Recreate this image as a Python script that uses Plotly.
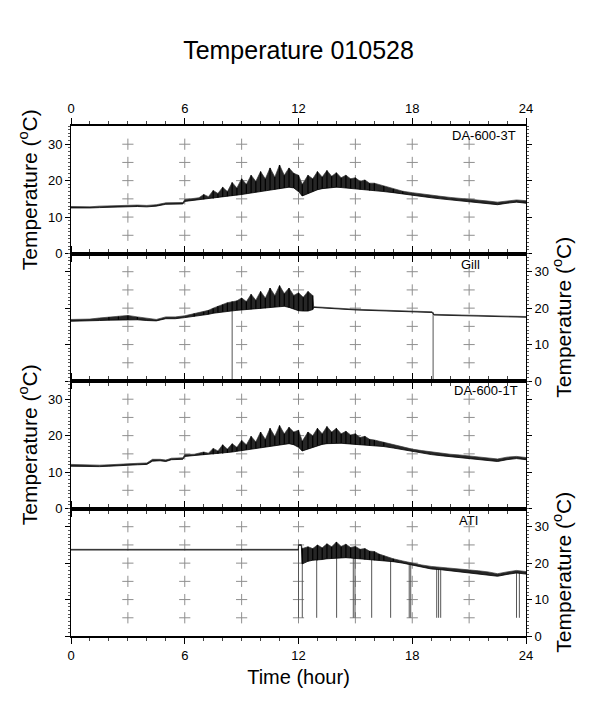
import plotly.graph_objects as go
from plotly.subplots import make_subplots

# ---------------- DATA ----------------
title_text = "Temperature 010528"
panel_names = ["DA-600-3T", "Gill", "DA-600-1T", "ATI"]
x_tick_vals = [0, 6, 12, 18, 24]
y_tick_vals = [0, 10, 20, 30]

# DA-600-3T : time (h), lower envelope, upper envelope (degC)
da3_t = [0, 0.5, 1, 1.5, 2, 2.5, 3, 3.5, 4, 4.5, 5, 5.5, 5.9, 6.0, 6.5,
         6.75, 7, 7.25, 7.5, 7.75, 8, 8.25, 8.5, 8.75, 9, 9.25, 9.5, 9.75,
         10, 10.25, 10.5, 10.75, 11, 11.25, 11.5, 11.75, 12, 12.2, 12.5, 12.75,
         13, 13.25, 13.5, 13.75, 14, 14.25, 14.5, 14.75, 15, 15.25, 15.5, 15.75,
         16, 16.5, 17, 17.5, 18, 18.5, 19, 19.5, 20, 20.5, 21, 21.5, 22, 22.5,
         23, 23.5, 24]
da3_lo = [12.5, 12.4, 12.5, 12.6, 12.7, 12.8, 12.9, 12.9, 12.8, 13.0, 13.5, 13.6, 13.6, 14.3, 14.6,
          14.8, 14.9, 15.0, 15.1, 15.3, 15.5, 15.7, 15.8, 16.0, 16.2, 16.4, 16.6, 16.8,
          17.0, 17.2, 17.4, 17.6, 17.8, 18.0, 18.2, 18.0, 17.0, 15.8, 16.5, 17.0,
          17.5, 17.8, 18.0, 18.1, 18.2, 18.1, 18.0, 17.9, 17.8, 17.6, 17.5, 17.3,
          17.2, 17.0, 16.7, 16.3, 15.9, 15.6, 15.3, 15.0, 14.7, 14.5, 14.2, 14.0, 13.7, 13.4,
          13.8, 14.1, 13.8]
da3_hi = [12.9, 12.8, 12.8, 13.0, 13.1, 13.2, 13.3, 13.3, 13.2, 13.4, 13.9, 13.9, 14.0, 14.8, 15.0,
          15.3, 16.2, 15.6, 17.3, 16.5, 18.2, 17.0, 19.5, 18.0, 20.5, 19.0, 21.5, 19.8,
          22.5, 20.5, 23.5, 21.0, 24.3, 21.5, 23.5, 22.0, 21.5, 19.0, 21.5, 20.5,
          22.5, 21.0, 22.8, 21.2, 22.2, 20.8, 21.5, 20.5, 20.8, 19.8, 20.2, 19.3,
          19.3, 18.5, 17.7, 17.1, 16.7, 16.3, 16.0, 15.7, 15.4, 15.2, 14.9, 14.7, 14.4, 14.1,
          14.4, 14.7, 14.5]

# Gill
gill_t = [0, 0.5, 1, 1.5, 2, 2.5, 3, 3.5, 4, 4.5, 5, 5.5, 6, 6.5,
          7, 7.25, 7.5, 7.75, 8, 8.25, 8.5, 8.75, 9, 9.25, 9.5, 9.75,
          10, 10.25, 10.5, 10.75, 11, 11.25, 11.5, 11.75, 12, 12.25, 12.5, 12.75,
          12.8, 15, 19.05, 19.15, 24]
gill_lo = [16.4, 16.4, 16.5, 16.6, 16.7, 16.8, 16.8, 16.8, 16.6, 16.5, 17.1, 17.1, 17.4, 17.7,
           18.1, 18.3, 18.6, 18.8, 19.0, 19.2, 19.3, 19.4, 19.5, 19.6, 19.7, 19.8,
           19.9, 20.0, 20.2, 20.3, 20.4, 20.5, 20.2, 19.8, 19.3, 19.2, 19.2, 19.6,
           20.2, 19.5, 18.8, 18.1, 17.5]
gill_hi = [16.9, 16.9, 17.0, 17.3, 17.6, 17.7, 18.0, 17.6, 17.2, 16.9, 17.6, 17.6, 17.9, 18.5,
           19.0, 19.4, 20.0, 20.6, 21.0, 21.5, 21.8, 22.0, 22.8, 21.8, 23.8, 22.2,
           24.6, 22.8, 25.5, 23.5, 26.2, 24.0, 25.5, 23.5, 24.2, 23.0, 24.6, 23.5,
           20.4, 19.7, 19.0, 18.3, 17.7]
gill_drop_t = [8.5, 19.1]
gill_drop_top = [19.3, 18.9]
gill_drop_bottom = [0, 0]

# DA-600-1T
da1_t = [0, 0.5, 1, 1.5, 2, 2.5, 3, 3.5, 4, 4.3, 4.7, 5, 5.3, 5.9, 6, 6.5,
         7, 7.25, 7.5, 7.75, 8, 8.25, 8.5, 8.75, 9, 9.25, 9.5, 9.75,
         10, 10.25, 10.5, 10.75, 11, 11.25, 11.5, 11.75, 12, 12.2, 12.5, 12.75,
         13, 13.25, 13.5, 13.75, 14, 14.25, 14.5, 14.75, 15, 15.25, 15.5, 15.75,
         16, 16.5, 17, 17.5, 18, 18.5, 19, 19.5, 20, 20.5, 21, 21.5, 22, 22.5,
         23, 23.5, 24]
da1_lo = [11.6, 11.5, 11.6, 11.5, 11.6, 11.8, 11.9, 12.0, 12.1, 13.0, 13.1, 12.9, 13.4, 13.5, 14.3, 14.5,
          14.7, 14.8, 14.9, 15.0, 15.1, 15.3, 15.5, 15.7, 15.9, 16.1, 16.3, 16.5,
          16.7, 16.9, 17.1, 17.3, 17.5, 17.7, 17.8, 17.5, 16.8, 15.8, 16.3, 16.8,
          17.3, 17.6, 17.8, 17.9, 18.0, 17.9, 17.8, 17.7, 17.6, 17.5, 17.4, 17.3,
          17.2, 17.0, 16.6, 16.1, 15.6, 15.2, 14.8, 14.5, 14.2, 14.0, 13.7, 13.5, 13.2, 12.9,
          13.4, 13.7, 13.4]
da1_hi = [12.1, 12.0, 12.0, 11.9, 12.0, 12.2, 12.3, 12.4, 12.5, 13.5, 13.5, 13.3, 13.8, 13.9, 14.8, 14.9,
          15.5, 15.2, 16.5, 15.8, 17.5, 16.3, 17.8, 16.8, 18.7, 17.5, 19.8, 18.3,
          21.0, 19.0, 22.0, 19.8, 22.8, 20.5, 22.3, 21.0, 21.5, 18.5, 21.0, 20.0,
          22.0, 20.5, 22.5, 21.0, 22.0, 20.5, 21.2, 20.2, 20.5, 19.5, 19.8, 19.0,
          18.8, 18.2, 17.4, 16.8, 16.3, 15.9, 15.5, 15.2, 14.9, 14.7, 14.4, 14.2, 13.9, 13.6,
          14.1, 14.3, 14.0]

# ATI
ati_t = [0, 11.99, 12.0, 12.15, 12.2, 12.5, 12.75, 13, 13.25, 13.5, 13.75, 14, 14.25,
         14.5, 14.75, 15, 15.25, 15.5, 15.75, 16, 16.25, 16.5, 17, 17.5, 18, 18.5,
         19, 19.5, 20, 20.5, 21, 21.5, 22, 22.5, 23, 23.5, 24]
ati_lo = [23.6, 23.6, 24.9, 24.9, 19.8, 20.5, 20.8, 20.8, 21.0, 21.2, 21.3, 21.5, 21.5,
          21.5, 21.4, 21.3, 21.2, 21.0, 20.9, 20.8, 20.8, 20.7, 20.4, 20.0, 19.4, 18.9,
          18.4, 18.2, 17.9, 17.7, 17.4, 17.2, 16.9, 16.4, 16.9, 17.3, 17.0]
ati_hi = [23.8, 23.8, 25.1, 25.1, 24.0, 24.5, 24.0, 25.0, 24.2, 25.3, 24.5, 25.8, 24.6,
          25.2, 24.3, 24.6, 23.8, 24.0, 23.3, 23.2, 22.5, 22.0, 21.2, 20.6, 20.0, 19.5,
          19.1, 18.9, 18.6, 18.4, 18.1, 17.9, 17.6, 17.1, 17.6, 18.0, 17.7]
ati_drop_t = [12.0, 12.2, 12.96, 14.01, 14.89, 14.98, 15.86, 16.86, 17.84, 17.92,
              19.29, 19.39, 19.5, 23.5, 23.65]
ati_drop_top = [25.0, 24.0, 22.0, 23.0, 22.5, 22.5, 22.0, 21.0, 19.6, 19.6,
                18.7, 18.7, 18.6, 17.6, 17.6]
ati_drop_bottom = [5] * 15

# grid-cross positions (hours, degC)
cross_x_vals = [3, 6, 9, 12, 15, 18, 21]
cross_y_vals = [5, 10, 15, 20, 25, 30]

# ---------------- FIGURE ----------------
# the page body has an 8px margin, so the figure is 8px smaller than the window
FIG_W, FIG_H = 590, 701
FONT = "Liberation Sans, Arial, Helvetica, sans-serif"
fig = make_subplots(rows=4, cols=1, vertical_spacing=0, shared_xaxes=False)

panels = [
    (da3_t, da3_lo, da3_hi, None),
    (gill_t, gill_lo, gill_hi, (gill_drop_t, gill_drop_top, gill_drop_bottom)),
    (da1_t, da1_lo, da1_hi, None),
    (ati_t, ati_lo, ati_hi, (ati_drop_t, ati_drop_top, ati_drop_bottom)),
]

cx = [x for x in cross_x_vals for _ in cross_y_vals]
cy = [y for _ in cross_x_vals for y in cross_y_vals]

for i, (t, lo, hi, drops) in enumerate(panels):
    row = i + 1
    fig.add_trace(go.Scatter(x=cx, y=cy, mode="markers", hoverinfo="skip",
                             marker=dict(symbol="cross-thin", size=8,
                                         line=dict(width=1, color="#8f8f8f")),
                             showlegend=False), row=row, col=1)
    if drops is not None:
        dt, dtop, dbot = drops
        dx, dy = [], []
        for a, b, c in zip(dt, dtop, dbot):
            dx += [a, a, None]
            dy += [b, c, None]
        fig.add_trace(go.Scatter(x=dx, y=dy, mode="lines",
                                 line=dict(color="#555555", width=1),
                                 showlegend=False), row=row, col=1)
    fig.add_trace(go.Scatter(x=t, y=lo, mode="lines",
                             line=dict(color="black", width=0.8),
                             showlegend=False), row=row, col=1)
    fig.add_trace(go.Scatter(x=t, y=hi, mode="lines", fill="tonexty",
                             fillcolor="#262626",
                             line=dict(color="#3a3a3a", width=0.7),
                             showlegend=False), row=row, col=1)
    # vertical hatch strokes between the envelopes at each sample
    sx, sy = [], []
    for a, b, c in zip(t, lo, hi):
        if c - b > 0.8:
            sx += [a, a, None]
            sy += [b, c, None]
    fig.add_trace(go.Scatter(x=sx, y=sy, mode="lines",
                             line=dict(color="black", width=1.2),
                             showlegend=False), row=row, col=1)

tickfont = dict(family=FONT, size=13, color="black")
for i in range(4):
    row = i + 1
    xa = dict(range=[0, 24], tickvals=x_tick_vals, ticks="outside", ticklen=6,
              tickwidth=1, tickcolor="black", showline=True, linewidth=2,
              linecolor="black", mirror="ticks", showgrid=False, zeroline=False,
              automargin=False,
              minor=dict(dtick=1, ticklen=3, tickcolor="#444444", tickwidth=1, ticks="outside"),
              tickfont=tickfont, showticklabels=(i in (0, 3)))
    if i == 0:
        xa["side"] = "top"
    if i == 3:
        xa["title"] = dict(text="Time (hour)", font=dict(family=FONT, size=20, color="black"),
                           standoff=8)
    fig.update_xaxes(row=row, col=1, **xa)
    ya = dict(range=[0, 35], tickvals=y_tick_vals, ticks="outside", ticklen=5,
              tickwidth=1, tickcolor="black", showline=True, linewidth=1,
              linecolor="black", mirror="ticks", showgrid=False, zeroline=False,
              automargin=False,
              minor=dict(dtick=1, ticklen=2, tickcolor="#555555", tickwidth=1, ticks="outside"),
              tickfont=tickfont, side=("left" if i % 2 == 0 else "right"),
              title=dict(text="Temperature (<sup>o</sup>C)",
                         font=dict(family=FONT, size=21, color="black"), standoff=4))
    fig.update_yaxes(row=row, col=1, **ya)

label_pos = [(21.8, 32.3), (21.05, 32.0), (21.9, 32.3), (20.95, 31.7)]
for i, (name, (lx, ly)) in enumerate(zip(panel_names, label_pos)):
    fig.add_annotation(x=lx, y=ly, xref=f"x{i+1}" if i else "x", yref=f"y{i+1}" if i else "y",
                       text=name, showarrow=False,
                       font=dict(family=FONT, size=13, color="black"))

fig.update_layout(
    width=FIG_W, height=FIG_H,
    margin=dict(l=63, r=72, t=118, b=73, autoexpand=False),
    paper_bgcolor="white", plot_bgcolor="white",
    title=dict(text=title_text, x=0.5, xref="paper", y=1 - 42 / FIG_H, yref="container",
               yanchor="middle", xanchor="center",
               font=dict(family=FONT, size=25, color="black")),
    showlegend=False,
)

fig.write_html("out.html")
